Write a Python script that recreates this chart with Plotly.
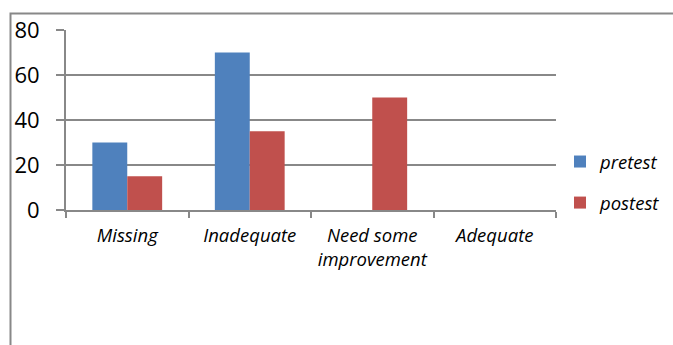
import plotly.graph_objects as go

categories = ["Missing", "Inadequate", "Need some<br>improvement", "Adequate"]
pretest = [30, 70, 0, 0]
postest = [15, 35, 50, 0]
y_ticks = [0, 20, 40, 60, 80]

W, H = 673, 345
L, R, T, B = 66, 556, 30, 210

fig = go.Figure()
fig.add_trace(go.Bar(x=categories, y=pretest, name="pretest", marker_color="#4F81BD",
                     marker_line_width=0, legendgroup="a"))
fig.add_trace(go.Bar(x=categories, y=postest, name="postest", marker_color="#C0504D",
                     marker_line_width=0, legendgroup="b"))

def px(x):
    return (x - L) / (R - L)

def py(y):
    return (B - y) / (B - T)

fig.update_layout(
    width=W, height=H,
    margin=dict(l=L, r=W - R, t=T, b=H - B, pad=0, autoexpand=False),
    paper_bgcolor="white", plot_bgcolor="white",
    barmode="group", bargap=0.43, bargroupgap=0,
    font=dict(family="Open Sans", color="black"),
    xaxis=dict(showline=True, linecolor="#888", linewidth=2, ticks="outside",
               tickson="boundaries", ticklen=6, tickcolor="#888", tickwidth=2,
               tickfont=dict(size=18.5, style="italic"), showgrid=False,
               tickangle=0, ticklabelstandoff=8),
    yaxis=dict(range=[0, 80], tickvals=y_ticks, showline=True, linecolor="#888",
               linewidth=2, ticks="outside", ticklen=8, tickcolor="#888", tickwidth=2,
               showgrid=True, gridcolor="#888", gridwidth=1.5, zeroline=False,
               tickfont=dict(size=22), ticklabelstandoff=12),
    legend=dict(x=px(560), y=py(143), xanchor="left", yanchor="top",
                font=dict(size=18.5, style="italic"), tracegroupgap=14,
                itemwidth=30, bgcolor="rgba(0,0,0,0)"),
    shapes=[dict(type="rect", xref="paper", yref="paper",
                 x0=px(10.5), x1=px(690), y0=py(13.5), y1=py(360),
                 line=dict(color="#888", width=2), fillcolor="rgba(0,0,0,0)", layer="below")],
)

fig.write_html("out.html")
